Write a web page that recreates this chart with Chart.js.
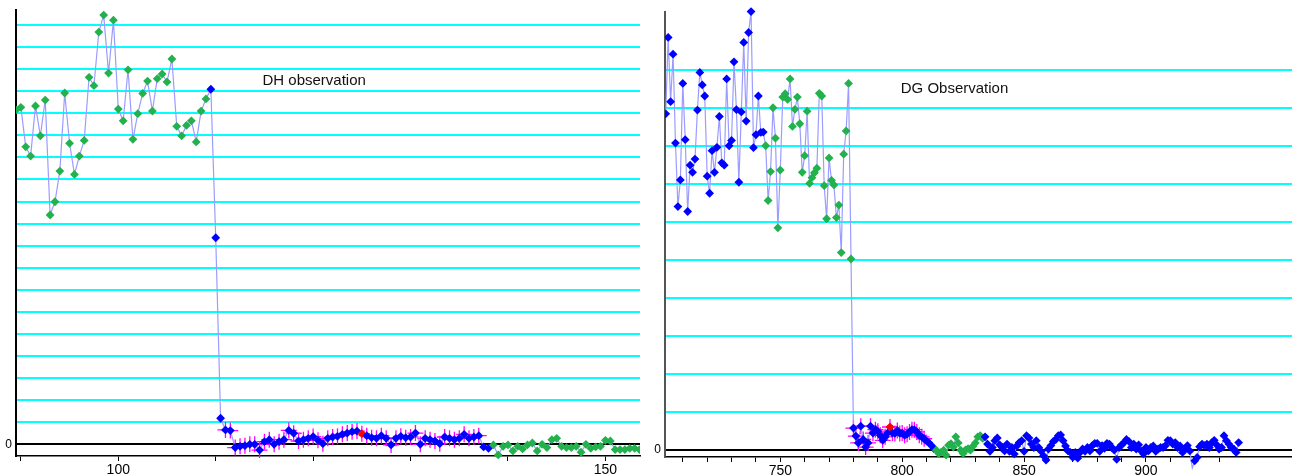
<!DOCTYPE html>
<html>
<head>
<meta charset="utf-8">
<script src="https://cdn.jsdelivr.net/npm/chart.js@4.4.1/dist/chart.umd.min.js"></script>
<style>
body { margin: 0; background: #fff; width: 1292px; height: 476px; overflow: hidden; position: relative; }
canvas { position: absolute; top: 0; }
#dh { left: 0; }
#dg { left: 645px; }
</style>
</head>
<body>
<canvas id="dh" width="645" height="476"></canvas>
<canvas id="dg" width="647" height="476"></canvas>
<script>
// DH panel: one point every half unit starting at 89.5
const dhStart = 89.5, dhStep = 0.5;
const dhValues = [
  15.15, 15.27, 13.48, 13.06, 15.33, 13.98, 15.60, 10.39, 10.99, 12.38,
  15.92, 13.64, 12.23, 13.06, 13.77, 16.63, 16.25, 18.68, 19.45, 16.82,
  19.22, 15.19, 14.66, 16.97, 13.82, 14.98, 15.90, 16.46, 15.10, 16.57,
  16.78, 16.42, 17.46, 14.41, 13.98, 14.45, 14.66, 13.70, 15.10, 15.65,
  16.09, 9.36, 1.18,
  0.65, 0.62,
  -0.15, -0.09, -0.06, 0, 0, -0.26, 0.12, 0.21, 0, 0.12,
  0.21, 0.63, 0.50, 0.15, 0.21, 0.27, 0.35, 0.18, 0.03, 0.27,
  0.33, 0.36, 0.45, 0.51, 0.57, 0.60,
  0.48,
  0.39, 0.30, 0.27, 0.39, 0.27, -0.03, 0.27, 0.36, 0.30, 0.33,
  0.51, 0.0, 0.27, 0.21, 0.15, 0.03, 0.33, 0.27, 0.21, 0.27,
  0.45, 0.27, 0.33, 0.39,
  -0.12, -0.18,
  -0.03, -0.48, -0.09, -0.03, -0.30, -0.09, -0.21, -0.03, 0.06, -0.30,
  0, -0.15, 0.21, 0.27, -0.09, -0.15, -0.15, -0.09, -0.36, 0,
  -0.18, -0.12, -0.09, 0.18, 0.15, -0.24, -0.24, -0.24, -0.18, -0.18, -0.24
];
// G = green, B = blue, E = blue with error bars, R = red with error bars
const dhRuns = [['G', 40], ['B', 3], ['E', 28], ['R', 1], ['E', 24], ['B', 2], ['G', 31]];
const dhTicks = [90, 100, 110, 120, 130, 140, 150];
const dhLabelled = [100, 150];
const dhGrid = [0,1,2,3,4,5,6,7,8,9,10,11,12,13,14,15,16,17,18,19];
const dhNote = { text: 'DH observation', x: 114.8, y: 16.46 };

// DG panel: one point per unit starting at 703
const dgStart = 703, dgStep = 1;
const dgValues = [
  8.84, 10.85, 9.16, 10.41, 8.07, 6.40, 7.10, 9.64, 8.16, 6.27,
  7.49, 7.30, 7.65, 8.94, 9.93, 9.60, 9.31, 7.20, 6.75, 7.87,
  7.30, 7.96, 8.77, 7.55, 7.49, 9.76, 8.00, 8.14, 10.21, 8.95,
  7.04, 8.89, 10.72, 8.65, 10.98, 11.53, 7.95, 8.29, 9.31, 8.35,
  8.36,
  8.00, 6.56, 7.32, 9.00, 8.20, 5.84, 7.36, 9.28, 9.37, 9.22,
  9.76, 8.51, 8.96, 9.28, 8.58, 7.30, 7.74, 8.91, 7.01, 7.16,
  7.29, 7.41, 9.38, 9.31, 6.95, 6.08, 7.68, 7.09, 6.97, 6.11,
  6.44, 5.19, 7.78, 8.39, 9.64, 5.02,
  0.57, 0.36, 0.18, 0.62, 0.27, 0.07, 0.18, 0.62, 0.44, 0.53,
  0.49, 0.38, 0.25, 0.34, 0.44, 0.60, 0.44, 0.43, 0.51, 0.43,
  0.44, 0.38, 0.41, 0.47, 0.53, 0.53, 0.47, 0.38, 0.34, 0.29,
  0.23, 0.18, 0.11, 0.03,
  -0.01, -0.10, -0.06, -0.01, -0.14, 0.12, 0.16, 0.07, 0.34, 0.18,
  -0.01, -0.10, 0.00, 0.03, -0.01, 0.09, 0.18, 0.34, 0.37, 0.30,
  0.34, 0.15, -0.04, 0.06, 0.24, 0.31, 0.13, 0.06, -0.03, 0.15,
  -0.04, 0.06, -0.11, 0.10, 0.19, 0.24, -0.04, 0.37, 0.31, 0.15,
  0.06, 0.24, 0.06, -0.04, -0.16, -0.27, 0.02, 0.11, 0.22, 0.27,
  0.37, 0.39, 0.24, 0.10, -0.03, -0.07, -0.20, -0.07, -0.22, -0.07,
  0.02, -0.04, 0.06, -0.03, 0.11, 0.17, 0.17, -0.04, 0.11, 0.04,
  0.17, 0.15, 0.06, -0.01, -0.25, 0.06, 0.13, 0.19, 0.27, 0.22,
  0.06, 0.15, 0.02, 0.13, -0.03, -0.11, 0.06, -0.03, 0.06, 0.10,
  -0.04, 0.02, 0.06, 0.06, 0.11, 0.25, 0.24, 0.15, 0.19, 0.06,
  0.10, -0.07, 0.02, 0.11, -0.03, -0.48, -0.29, -0.20, 0.08, 0.15,
  0.11, 0.15, 0.06, 0.19, 0.25, 0.13, 0.02, 0.06, 0.37, 0.24,
  0.15, 0.06, 0.02, -0.07, 0.19
];
const dgRuns = [['B', 41], ['G', 36], ['E', 15], ['R', 1], ['E', 14], ['B', 4], ['G', 20], ['B', 105]];
const dgTicks = [710, 720, 730, 740, 750, 760, 770, 780, 790, 800, 810, 820, 830, 840, 850, 860, 870, 880, 890, 900, 910, 920, 930];
const dgLabelled = [750, 800, 850, 900];
const dgGrid = [0,1,2,3,4,5,6,7,8,9,10];
const dgNote = { text: 'DG Observation', x: 799.4, y: 9.51 };

const colours = { G: '#22b14c', B: '#0000ff', E: '#0000ff', R: '#ff0000' };
const lineColour = '#9c9cff';

function expandRuns(runs) {
  var out = [];
  runs.forEach(function (r) { for (var i = 0; i < r[1]; i++) out.push(r[0]); });
  return out;
}

function notePlugin(note) {
  return {
    id: 'note',
    afterDatasetsDraw(chart) {
      var c = chart.ctx;
      c.save();
      c.font = '15px "Liberation Sans", Arial, sans-serif';
      c.fillStyle = '#111';
      c.textAlign = 'left';
      c.textBaseline = 'middle';
      c.fillText(note.text, chart.scales.x.getPixelForValue(note.x), chart.scales.y.getPixelForValue(note.y));
      c.restore();
    }
  };
}

function makePanel(id, p) {
  var kinds = expandRuns(p.runs);
  var pts = p.values.map(function (v, i) { return { x: p.start + i * p.step, y: v }; });
  var errPts = pts.filter(function (pt, i) { return kinds[i] == 'E' || kinds[i] == 'R'; });
  var pick = function (ctx) { return colours[kinds[ctx.dataIndex]]; };

  new Chart(document.getElementById(id), {
    type: 'line',
    data: {
      datasets: [{
        data: pts,
        borderColor: lineColour,
        borderWidth: 1.2,
        tension: 0,
        pointStyle: 'rectRot',
        pointRadius: 4.4,
        pointBorderWidth: 0,
        pointBackgroundColor: pick,
        pointBorderColor: pick,
        clip: p.clip
      }, {
        data: errPts,
        showLine: false,
        pointStyle: 'cross',
        pointRadius: 8,
        pointBorderWidth: 1.3,
        pointBorderColor: '#ff00ff',
        clip: p.clip
      }]
    },
    options: {
      responsive: false,
      animation: false,
      events: [],
      layout: { autoPadding: false, padding: { top: p.padTop, right: p.padRight, left: 0, bottom: 0 } },
      plugins: { legend: { display: false }, tooltip: { enabled: false } },
      scales: {
        x: {
          type: 'linear',
          min: p.xMin,
          max: p.xMax,
          afterBuildTicks: function (s) { s.ticks = p.xTicks.map(function (v) { return { value: v }; }); },
          afterFit: function (s) { s.height = p.xAxisH; s.paddingLeft = 0; s.paddingRight = 0; },
          grid: { drawOnChartArea: false, drawTicks: true, tickLength: 5, tickColor: '#000', lineWidth: 1 },
          border: { color: '#000', width: 1.5 },
          ticks: {
            autoSkip: false, maxRotation: 0, padding: 1, color: '#000',
            font: { family: '"Liberation Sans", Arial, sans-serif', size: 14 },
            callback: function (v) { return p.xLabelled.includes(v) ? String(v) : ''; }
          }
        },
        y: {
          min: p.yMin,
          max: p.yMax,
          afterBuildTicks: function (s) { s.ticks = p.yGrid.map(function (v) { return { value: v }; }); },
          afterFit: function (s) { s.width = p.yAxisW; s.paddingTop = 0; s.paddingBottom = 0; },
          grid: {
            drawTicks: false,
            lineWidth: 2,
            color: function (c) { return c.tick && c.tick.value === 0 ? '#000' : '#00ffff'; }
          },
          border: { color: p.yBorder, width: 2 },
          ticks: {
            padding: 4, color: '#000',
            font: { family: '"Liberation Sans", Arial, sans-serif', size: 12 },
            callback: function (v) { return v === 0 ? '0' : ''; }
          }
        }
      }
    },
    plugins: [notePlugin(p.note)]
  });
}

makePanel('dh', {
  start: dhStart, step: dhStep, values: dhValues, runs: dhRuns,
  xTicks: dhTicks, xLabelled: dhLabelled, yGrid: dhGrid, note: dhNote,
  xMin: 89.5, xMax: 153.55, yMin: -0.53, yMax: 19.68,
  padTop: 10, padRight: 5, xAxisH: 20, yAxisW: 16, yBorder: '#000',
  clip: { left: 0, top: 10, right: 0, bottom: 20 }
});

makePanel('dg', {
  start: dgStart, step: dgStep, values: dgValues, runs: dgRuns,
  xTicks: dgTicks, xLabelled: dgLabelled, yGrid: dgGrid, note: dgNote,
  xMin: 702.7, xMax: 959.9, yMin: -0.19, yMax: 11.52,
  padTop: 12, padRight: 0, xAxisH: 19, yAxisW: 20, yBorder: '#555',
  clip: { left: 0, top: 10, right: 0, bottom: 20 }
});
</script>
</body>
</html>
